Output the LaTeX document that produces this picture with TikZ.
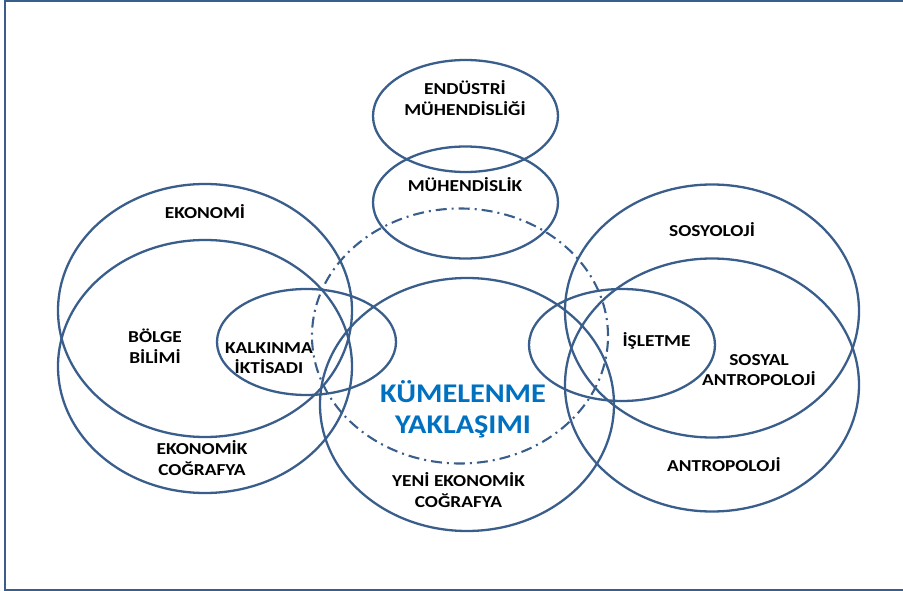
\documentclass[tikz,border=0pt]{standalone}
\usepackage{fontspec}
\setmainfont{Carlito}
\usetikzlibrary{shapes.geometric}
\definecolor{ring}{RGB}{58,94,140}
\definecolor{kblue}{RGB}{0,112,192}
\tikzset{
  zone/.style={draw=ring, line width=2.3pt, ellipse, inner sep=0pt, minimum width=294pt, minimum height=253pt},
  smallzone/.style={zone, minimum width=185pt, minimum height=112pt},
  core/.style={draw=ring, line width=2.1pt, ellipse, inner sep=0pt, minimum width=296pt, minimum height=255pt,
    dash pattern=on 11pt off 5pt on 2pt off 5pt},
  lbl/.style={inner sep=0pt, align=center, xscale=1.16, font=\bfseries\fontsize{16.7}{20.5}\selectfont},
  biglbl/.style={inner sep=0pt, align=center, xscale=1.12, text=kblue, font=\bfseries\fontsize{27}{31}\selectfont}
}
\begin{document}
\begin{tikzpicture}[x=1pt, y=-1pt]
\useasboundingbox (0,0) rectangle (903,591);
\clip (0,0) rectangle (903,591);
\draw[ring, line width=1.5pt] (930,1) -- (5,1) -- (5,590) -- (930,590);
% circles
\node[smallzone] (endm) at (465.5,116) {};
\node[smallzone] (muh) at (465.5,202.5) {};
\node[zone] (eko) at (205,310.5) {};
\node[zone] (ekoc) at (205,366.5) {};
\node[smallzone, minimum width=179pt, minimum height=106pt] (kalk) at (306.5,342) {};
\node[core] (kume) at (460,336) {};
\node[zone] (yeni) at (467,404.5) {};
\node[zone] (sos) at (712,311) {};
\node[zone] (ant) at (712,385) {};
\node[smallzone, minimum width=186pt, minimum height=112pt] (isl) at (622,345) {};
% labels
\node[lbl] (tEndm) at (465,98) {ENDÜSTRİ\\MÜHENDİSLİĞİ};
\node[lbl] (tMuh) at (465,185) {MÜHENDİSLİK};
\node[lbl] (tEko) at (205,212) {EKONOMİ};
\node[lbl] (tBol) at (155,346) {BÖLGE\\BİLİMİ};
\node[lbl] (tKalk) at (269,358) {KALKINMA\\İKTİSADI};
\node[lbl] (tEkoc) at (202,458) {EKONOMİK\\COĞRAFYA};
\node[biglbl] (tKume) at (463,409) {KÜMELENME\\YAKLAŞIMI};
\node[lbl] (tYeni) at (458.5,490) {YENİ EKONOMİK\\COĞRAFYA};
\node[lbl] (tSos) at (712,230) {SOSYOLOJİ};
\node[lbl] (tIsl) at (656.5,341) {İŞLETME};
\node[lbl] (tSant) at (759,370) {SOSYAL\\ANTROPOLOJİ};
\node[lbl] (tAnt) at (724,465) {ANTROPOLOJİ};
\end{tikzpicture}
\end{document}
